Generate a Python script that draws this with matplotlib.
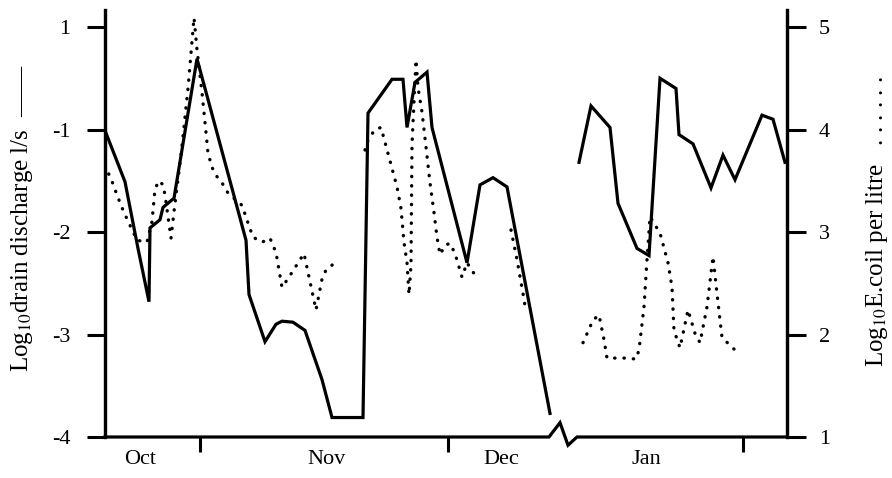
import matplotlib
matplotlib.use("Agg")
import matplotlib.pyplot as plt

plt.rcParams['font.family'] = ['Liberation Serif', 'DejaVu Serif']
plt.rcParams['mathtext.fontset'] = 'stix'

# time position along the (non-uniform) date axis, plot units
# log10 drain discharge (l/s), left axis
t_q1 = [0, 20, 33, 44, 45, 55, 58, 69, 92, 141, 144, 160, 171, 177, 188, 200,
        217, 227, 258, 263, 287, 298, 302, 310, 322, 327, 362, 375, 388, 402, 445]
q1 = [-1.01, -1.51, -2.16, -2.68, -1.96, -1.88, -1.76, -1.67, -0.31, -2.08,
      -2.61, -3.07, -2.90, -2.87, -2.88, -2.96, -3.44, -3.81, -3.81, -0.84,
      -0.51, -0.51, -0.98, -0.54, -0.44, -0.98, -2.30, -1.54, -1.47, -1.56, -3.77]
t_q2 = [474, 486, 505, 513, 532, 544, 555, 571, 574, 588, 606, 618, 630, 657, 668, 680]
q2 = [-1.32, -0.77, -0.98, -1.72, -2.16, -2.23, -0.50, -0.60, -1.05, -1.14,
      -1.57, -1.25, -1.49, -0.86, -0.90, -1.32]

# log10 E.coli per litre, right axis
t_e1 = [0, 8, 12, 19, 32, 42, 47, 50, 54, 58, 60, 66, 69, 76, 83, 89, 92, 97,
        101, 103, 107, 112, 117, 123, 137, 144, 148, 157, 165, 171, 177, 184,
        199, 211, 217, 221, 230]
e1 = [3.65, 3.47, 3.36, 3.19, 2.92, 2.90, 3.10, 3.42, 3.50, 3.46, 3.36, 2.94,
      3.20, 3.75, 4.40, 5.09, 4.78, 4.36, 3.97, 3.77, 3.63, 3.54, 3.48, 3.38,
      3.26, 3.06, 2.95, 2.90, 2.94, 2.80, 2.46, 2.56, 2.79, 2.24, 2.54, 2.63, 2.70]
t_e2 = [260, 263, 270, 276, 284, 292, 296, 299, 302, 304, 306, 307, 308, 310,
        311, 313, 317, 321, 325, 329, 332, 335, 340, 345, 350, 357, 362, 370]
e2 = [3.80, 3.90, 4.00, 4.02, 3.73, 3.44, 3.23, 2.90, 2.70, 2.39, 2.68, 3.85,
      4.06, 4.48, 4.68, 4.41, 4.17, 3.83, 3.48, 3.19, 2.95, 2.78, 2.87, 2.89,
      2.79, 2.56, 2.70, 2.58]
t_e3 = [406, 412, 418, 421]
e3 = [3.02, 2.73, 2.40, 2.22]
t_e4 = [478, 488, 494, 499, 502, 522, 531, 534, 539, 542, 545, 555, 563, 567,
        569, 575, 583, 590, 595, 602, 608, 612, 617, 632]
e4 = [1.92, 2.14, 2.19, 1.95, 1.77, 1.77, 1.76, 1.85, 2.27, 2.73, 3.15, 2.99,
      2.70, 2.46, 2.04, 1.87, 2.24, 2.01, 1.92, 2.27, 2.76, 2.40, 1.97, 1.83]

months = ['Oct', 'Nov', 'Dec', 'Jan']
month_pos = [35, 222, 396, 541]
month_ticks = [95, 343, 638]

fig = plt.figure(figsize=(8.92, 4.78), dpi=100)
ax = fig.add_axes([105 / 892, 41 / 478, 682 / 892, 427 / 478])
ax2 = ax.twinx()

lw = 2.3
ax.plot(t_q1, q1, color='black', lw=lw, solid_joinstyle='miter')
ax.plot(t_q2, q2, color='black', lw=lw, solid_joinstyle='miter')
for tt, ee in [(t_e1, e1), (t_e2, e2), (t_e3, e3), (t_e4, e4)]:
    ax2.plot(tt, ee, color='black', lw=2.4, linestyle=(0, (0.1, 2.7)),
             dash_capstyle='round')

ax.set_xlim(0, 682)
ax.set_ylim(-4, 0.166)
ax2.set_ylim(1, 5.166)

ax.set_yticks([0, -1, -2, -3, -4])
ax.set_yticklabels(['1', '-1', '-2', '-3', '-4'])
ax2.set_yticks([1, 2, 3, 4, 5])

ax.set_xticks(month_ticks)
ax.set_xticklabels([])
ax.set_xticks(month_pos, minor=True)
ax.set_xticklabels(months, minor=True)

ax.tick_params(axis='y', direction='out', length=13, width=2.2, pad=12, labelsize=16)
ax2.tick_params(axis='y', direction='out', length=14, width=2.2, pad=9, labelsize=16)
ax.tick_params(axis='x', which='major', direction='out', length=11, width=2.2)
ax.tick_params(axis='x', which='minor', length=0, pad=9, labelsize=16)

for a in (ax, ax2):
    a.spines['top'].set_visible(False)
    a.spines['bottom'].set_visible(False)
    a.spines['left'].set_linewidth(2.3)
    a.spines['right'].set_linewidth(2.3)

# bottom axis with a break between Dec and Jan
ax.plot([0, 444, 455, 463, 472, 682], [-4, -4, -3.86, -4.08, -4, -4],
        color='black', lw=2.3, clip_on=False, solid_joinstyle='miter')

fig.text(22 / 892, 1 - 218 / 478, r'Log$_{10}$drain discharge l/s  ——',
         rotation=90, ha='center', va='center', fontsize=18)
fig.text(877 / 892, 1 - 222 / 478, r'Log$_{10}$E.coil per litre   . . . . . .',
         rotation=90, ha='center', va='center', fontsize=18)

fig.savefig('out.png', dpi=100)
